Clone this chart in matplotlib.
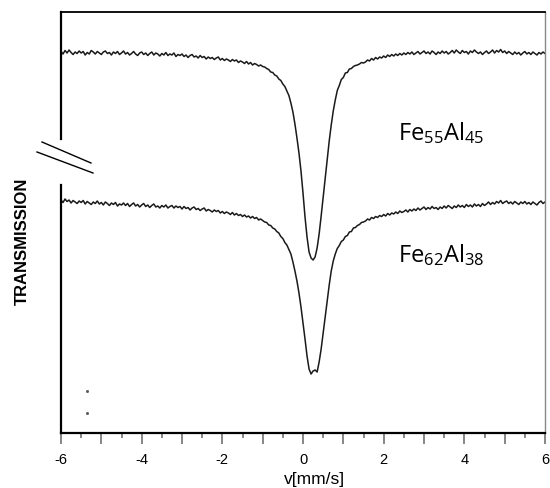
import matplotlib
matplotlib.use("Agg")
import matplotlib.pyplot as plt
from matplotlib.lines import Line2D
import numpy as np

# velocity axis, 0.05 mm/s channels from -6 to 6
v_start, v_stop, v_step = -6.0, 6.0, 0.05

# Fe55Al45 (upper spectrum), arbitrary transmission units
fe55 = [
    # -6.00 .. -3.05
    381.5, 379.0, 382.5, 380.0, 383.0, 380.5, 378.5, 381.0, 379.5, 382.0,
    380.0, 381.5, 378.0, 380.5, 379.0, 382.5, 381.0, 379.0, 381.5, 380.0,
    378.5, 381.0, 382.0, 379.5, 380.5, 378.0, 381.0, 379.5, 381.5, 378.5,
    380.0, 382.0, 379.0, 380.5, 378.0, 379.5, 381.5, 379.0, 377.5, 380.0,
    381.0, 378.5, 380.0, 377.5, 379.5, 381.0, 378.0, 380.0, 379.0, 377.0,
    379.5, 378.0, 380.5, 377.5, 379.0, 378.0, 380.0, 376.5, 378.5, 377.5,
    # -3.00 .. -1.05
    379.0, 376.5, 378.0, 375.5, 377.5, 378.5, 376.0, 377.0, 375.0, 377.5,
    375.5, 376.5, 374.0, 376.0, 374.5, 375.5, 373.5, 375.0, 376.0, 373.0,
    374.5, 372.5, 374.0, 373.0, 371.5, 373.5, 372.0, 373.0, 370.5, 372.0,
    371.0, 369.5, 371.5, 369.0, 370.5, 368.0, 369.5, 368.5, 367.0, 368.0,
    # -1.00 .. 1.50
    366.5, 366.0, 364.5, 363.5, 361.0, 360.5, 358.0, 357.0, 354.0, 352.5,
    349.0, 346.5, 342.0, 337.5, 330.0, 321.0, 309.0, 295.0, 280.0, 262.0,
    240.0, 216.0, 196.0, 181.0, 175.0, 173.0, 176.0, 185.0, 199.0, 217.0,
    236.0, 256.0, 275.0, 292.0, 308.0, 322.0, 333.0, 342.5, 347.5, 353.5,
    355.5, 360.0, 360.5, 364.0, 364.5, 366.5, 367.5, 368.0, 369.0, 370.5,
    370.0,
    # 1.55 .. 6.00
    371.0, 373.0, 372.0, 374.5, 373.0, 375.5, 374.0, 376.0, 375.0, 377.0,
    375.5, 378.0, 376.5, 378.5, 377.0, 379.0, 377.5, 379.5, 378.0, 380.0,
    378.5, 380.5, 379.0, 381.0, 378.5, 380.0, 381.5, 379.0, 380.5, 382.0,
    379.5, 381.0, 379.0, 382.0, 380.5, 378.5, 381.0, 379.5, 382.0, 380.0,
    381.5, 379.0, 380.5, 382.5, 380.0, 383.0, 381.0, 379.5, 382.5, 380.5,
    381.5, 379.0, 382.0, 380.5, 383.0, 381.0, 379.5, 381.0, 378.5, 380.5,
    382.0, 379.5, 381.0, 383.0, 380.0, 382.5, 381.0, 383.5, 380.5, 382.0,
    379.5, 381.5, 380.0, 378.5, 381.0, 379.0, 380.5, 378.0, 380.0, 381.5,
    379.0, 380.5, 378.5, 381.0, 379.5, 378.0, 380.5, 379.0, 381.0, 379.5,
]

# Fe62Al38 (lower spectrum)
fe62 = [
    # -6.00 .. -3.05
    233.0, 230.5, 234.0, 231.5, 233.0, 230.0, 232.5, 231.0, 229.5, 232.0,
    230.5, 232.5, 229.0, 231.5, 230.0, 228.5, 231.0, 229.5, 232.0, 229.0,
    230.5, 228.0, 231.0, 229.5, 227.5, 230.0, 228.5, 230.5, 227.0, 229.0,
    228.0, 230.0, 227.5, 229.5, 226.5, 228.5, 230.0, 227.0, 228.5, 226.0,
    228.0, 229.5, 226.5, 228.0, 225.5, 227.5, 229.0, 226.0, 227.0, 225.0,
    227.5, 226.0, 228.0, 225.0, 226.5, 227.5, 225.0, 227.0, 225.5, 226.5,
    # -3.00 .. -1.05
    224.0, 226.5, 224.5, 225.5, 223.0, 225.0, 226.0, 223.5, 224.5, 222.5,
    224.0, 225.0, 222.0, 223.5, 222.5, 221.0, 223.0, 221.5, 222.5, 220.0,
    221.5, 219.5, 221.0, 220.0, 218.5, 220.5, 218.0, 219.5, 217.5, 218.5,
    216.5, 218.0, 216.0, 217.0, 215.0, 216.5, 214.5, 215.5, 213.0, 214.0,
    # -1.00 .. 1.50
    212.5, 211.0, 210.5, 208.0, 207.5, 205.0, 204.0, 201.5, 200.0, 196.5,
    194.5, 190.5, 188.0, 183.5, 179.0, 171.0, 162.0, 152.0, 140.0, 126.0,
    110.0, 94.0, 77.0, 64.0, 59.0, 62.0, 63.0, 61.0, 71.0, 84.0,
    100.0, 116.0, 132.0, 148.0, 162.0, 172.0, 179.0, 184.5, 187.5, 191.5,
    193.0, 196.5, 197.5, 201.0, 201.5, 205.0, 205.5, 207.5, 208.5, 210.5,
    211.0,
    # 1.55 .. 6.00
    212.0, 214.0, 213.0, 215.5, 214.5, 216.5, 215.5, 217.5, 216.5, 218.5,
    217.0, 219.5, 218.0, 220.0, 219.0, 221.0, 219.5, 222.0, 220.5, 221.5,
    223.0, 221.0, 223.5, 222.0, 224.0, 222.5, 225.0, 223.0, 224.5, 226.0,
    223.5, 225.5, 224.0, 226.5, 224.5, 225.5, 223.5, 226.0, 224.5, 227.0,
    225.0, 227.5, 226.0, 224.5, 227.0, 225.5, 228.0, 226.0, 227.5, 225.5,
    228.5, 226.5, 228.0, 226.0, 229.0, 227.0, 228.5, 226.5, 229.5, 227.5,
    229.0, 231.0, 228.5, 230.5, 229.0, 231.5, 230.0, 232.5, 229.5, 231.0,
    232.0, 229.5, 231.0, 229.0, 231.5, 230.0, 228.5, 231.0, 229.5, 231.5,
    229.0, 230.5, 228.5, 231.0, 229.5, 228.0, 230.5, 232.0, 229.5, 231.0,
]

# stray dots near the lower left corner
dots_v = [-5.36, -5.36]
dots_t = [42, 20]

xticks = [-6, -5, -4, -3, -2, -1, 0, 1, 2, 3, 4, 5, 6]
xtick_labels = ['-6', '', '-4', '', '-2', '', '0', '', '2', '', '4', '', '6']
minor_ticks = [-5.5, -4.5, -3.5, -2.5, -1.5, -0.5, 0.5, 1.5, 2.5, 3.5, 4.5, 5.5]

n = len(fe55)
v = np.linspace(v_start, v_stop, n)

W, H = 550, 489
fig = plt.figure(figsize=(W / 100, H / 100), dpi=100)
ax = fig.add_axes([61 / W, 1 - 434 / H, (545 - 61) / W, (434 - 13) / H])

ax.plot(v, fe55, color='#1a1a1a', lw=1.1)
ax.plot(v, fe62, color='#1a1a1a', lw=1.1)
ax.plot(dots_v, dots_t, ls='none', marker='s', ms=1.0, color='#555555')

ax.set_xlim(-6, 6)
ax.set_ylim(0, 421)
ax.set_yticks([])
ax.set_xticks(xticks)
ax.set_xticklabels(xtick_labels, fontfamily='Liberation Sans', fontsize=10.5)
ax.set_xticks(minor_ticks, minor=True)
ax.tick_params(axis='x', which='major', length=8, width=1.1, color='#666666', pad=6)
ax.tick_params(axis='x', which='minor', length=3.6, width=1.1, color='#666666')

ax.spines['bottom'].set_linewidth(1.6)
ax.spines['top'].set_linewidth(1.3)
ax.spines['right'].set_linewidth(1.0)
ax.spines['right'].set_color('#888888')
ax.spines['left'].set_visible(False)

# broken left axis
for y0, y1 in [(0, (434 - 186) / 421), ((434 - 140) / 421, 1)]:
    ax.add_line(Line2D([0, 0], [y0, y1], transform=ax.transAxes, color='black',
                       lw=1.6, clip_on=False))
for (x0, y0), (x1, y1) in [((42, 143), (91, 164)), ((37, 153), (93, 174))]:
    fig.add_artist(Line2D([x0 / W, x1 / W], [1 - y0 / H, 1 - y1 / H],
                          color='black', lw=1.0))

fig.text(314 / W, 1.5 / H, 'v[mm/s]', ha='center', va='bottom',
         fontfamily='Liberation Sans', fontsize=12.5)
fig.text(22 / W, 1 - 241 / H, 'TRANSMISSION', rotation=90, ha='center', va='center',
         fontfamily='Liberation Sans', fontweight='bold', fontsize=12)

ax.text(2.36, 294, r'$\mathregular{Fe_{55}Al_{45}}$', fontfamily='Open Sans',
        fontsize=17, va='baseline')
ax.text(2.36, 172, r'$\mathregular{Fe_{62}Al_{38}}$', fontfamily='Open Sans',
        fontsize=17, va='baseline')

fig.savefig('out.png', dpi=100)
